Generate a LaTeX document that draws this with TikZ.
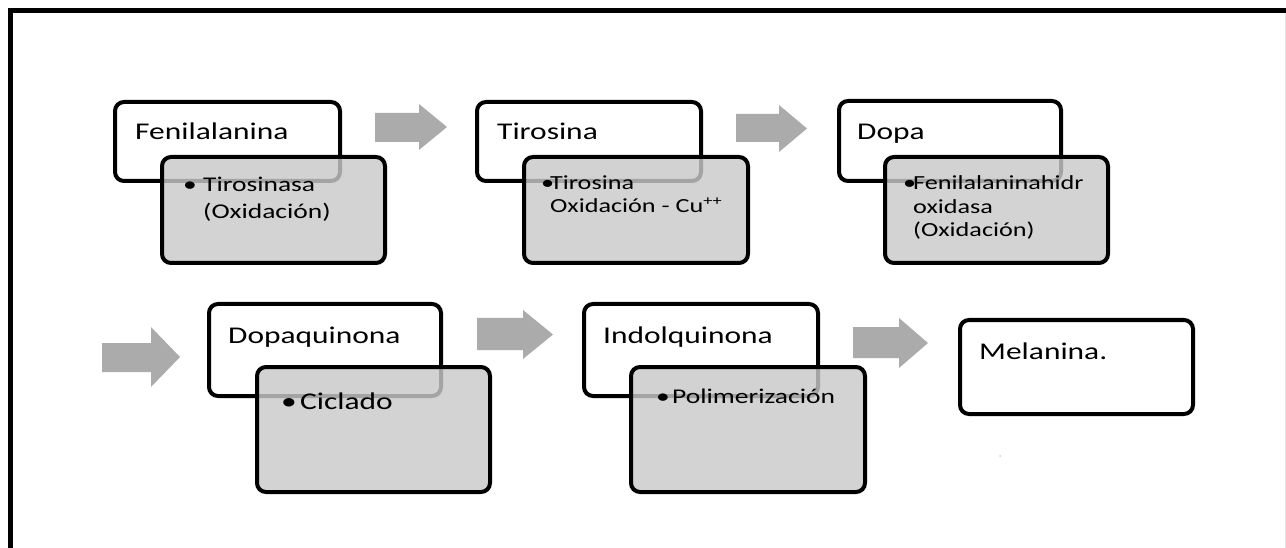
\documentclass[tikz,border=0pt]{standalone}
\usepackage{fontspec}
\setmainfont{Carlito}[FakeStretch=1.31]
\definecolor{boxgray}{gray}{0.79}
\definecolor{arrowgray}{gray}{0.67}
\newcommand\bfirst[2]{\hbox{\makebox[#1][l]{•}#2}}
\newcommand\bnext[2]{\hbox{\hspace*{#1}#2}}
\tikzset{
  wbox/.style={draw=black, line width=4pt, rounded corners=9pt, fill=white, inner sep=0pt, outer sep=0pt},
  gbox/.style={draw=black, line width=4pt, rounded corners=9pt, fill=boxgray, fill opacity=0.82, draw opacity=1, inner sep=0pt, outer sep=0pt},
  ttl/.style={anchor=base west, inner sep=0pt, font=\fontsize{24}{29}\selectfont},
  itm/.style={anchor=base west, inner sep=0pt},
  blockarrow/.style={fill=arrowgray, draw=none},
  frameline/.style={line width=5pt, line join=miter},
}
\begin{document}
\begin{tikzpicture}[x=1pt,y=-1pt]
\useasboundingbox (0,0) rectangle (1286,548);
% frame
\draw[frameline] (10.5,548) -- (10.5,10.5) -- (1286,10.5);
\draw[gray!20, line width=1pt] (1285.3,13) -- (1285.3,548);

% row 1
\node[wbox, minimum width=225pt, minimum height=79pt] (w1) at (227.5,141.5) {};
\node[gbox, minimum width=223pt, minimum height=106pt] (g1) at (273.5,210) {};
\node[ttl] (t1) at (135,139.5) {Fenilalanina};
\node[itm, font=\fontsize{21}{27}\selectfont] (i1) at (183,192)
  {\vtop{\baselineskip=27pt\relax\bfirst{20pt}{Tirosinasa}\bnext{20pt}{(Oxidación)}}};

\node[wbox, minimum width=224pt, minimum height=79pt] (w2) at (589,141.5) {};
\node[gbox, minimum width=224pt, minimum height=106pt] (g2) at (636,210) {};
\node[ttl] (t2) at (497,140) {Tirosina};
\node[itm, font=\fontsize{20}{24}\selectfont] (i2) at (541,190)
  {\vtop{\baselineskip=23pt\relax\bfirst{9pt}{Tirosina}\bnext{9pt}{Oxidación - Cu\textsuperscript{++}}}};

\node[wbox, minimum width=222pt, minimum height=80pt] (w3) at (950,141) {};
\node[gbox, minimum width=223pt, minimum height=106pt] (g3) at (996.5,210) {};
\node[ttl] (t3) at (857,140) {Dopa};
\node[itm, font=\fontsize{20}{24}\selectfont] (i3) at (903,190)
  {\vtop{\baselineskip=23.3pt\relax\bfirst{10pt}{Fenilalaninahidr}\bnext{10pt}{oxidasa}\bnext{10pt}{(Oxidación)}}};

% row 2
\node[wbox, minimum width=232pt, minimum height=92pt] (w4) at (325,350) {};
\node[gbox, minimum width=233pt, minimum height=125pt] (g4) at (373.5,429.5) {};
\node[ttl] (t4) at (228,343) {Dopaquinona};
\node[itm, font=\fontsize{24}{29}\selectfont] (i4) at (281,409.3) {\makebox[19pt][l]{•}Ciclado};

\node[wbox, minimum width=234pt, minimum height=92pt] (w5) at (701,350) {};
\node[gbox, minimum width=234pt, minimum height=125pt] (g5) at (748,429.5) {};
\node[ttl] (t5) at (603,343) {Indolquinona};
\node[itm, font=\fontsize{21}{27}\selectfont] (i5) at (656,403.3) {\makebox[16pt][l]{•}Polimerización};

\node[wbox, minimum width=233pt, minimum height=94pt] (w6) at (1076.5,367) {};
\node[ttl] (t6) at (979,359.3) {Melanina.};

% block arrows
\fill[blockarrow] (375,113) -- (419,113) -- (419,104) -- (447,127) -- (419,150) -- (419,142) -- (375,142) -- cycle;
\fill[blockarrow] (736,114) -- (779,114) -- (779,105) -- (807,128.5) -- (779,152) -- (779,142) -- (736,142) -- cycle;
\fill[blockarrow] (102,343) -- (151,343) -- (151,327) -- (180,357) -- (151,387) -- (151,372) -- (102,372) -- cycle;
\fill[blockarrow] (477,318) -- (523,318) -- (523,310) -- (553,334.5) -- (523,359) -- (523,350) -- (477,350) -- cycle;
\fill[blockarrow] (853,327) -- (899,327) -- (899,318) -- (928,343) -- (899,368) -- (899,358) -- (853,358) -- cycle;

% stray dot
\fill[gray!35] (1000,456) circle (1pt);
\end{tikzpicture}
\end{document}
